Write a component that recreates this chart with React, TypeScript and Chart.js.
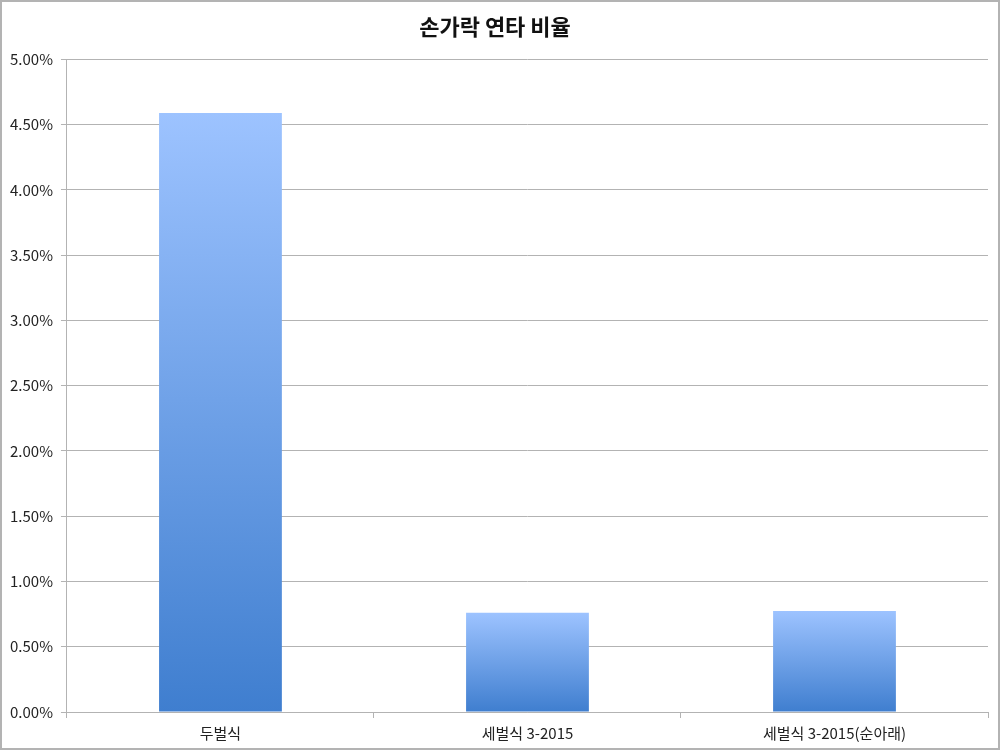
import React, { useEffect, useRef } from "react";
import { Chart, registerables } from "chart.js";

Chart.register(...registerables);

const categories = ["두벌식", "세벌식 3-2015", "세벌식 3-2015(순아래)"];
const values = [4.59, 0.76, 0.774];
const yTicks = [0, 0.5, 1, 1.5, 2, 2.5, 3, 3.5, 4, 4.5, 5];
const titleText = "손가락 연타 비율";

const FONT = "'Noto Sans CJK KR', 'Noto Sans', sans-serif";

export default function App() {
  const ref = useRef<HTMLCanvasElement | null>(null);
  useEffect(() => {
    if (!ref.current) return;
    const chart = new Chart(ref.current, {
      type: "bar",
      data: {
        labels: categories,
        datasets: [
          {
            data: values,
            barPercentage: 0.8,
            categoryPercentage: 0.5,
            backgroundColor: (ctx: any) => {
              const c = ctx.chart;
              const ca = c.chartArea;
              if (!ca || ctx.dataIndex === undefined) return "#6fa0e8";
              const y = c.scales.y;
              const v = ctx.raw ?? values[ctx.dataIndex];
              const top = y.getPixelForValue(v);
              const base = y.getPixelForValue(0);
              const g = c.ctx.createLinearGradient(0, top, 0, base);
              g.addColorStop(0, "#9dc3ff");
              g.addColorStop(1, "#3f7ecf");
              return g;
            },
            borderWidth: 0,
          },
        ],
      },
      options: {
        animation: false,
        responsive: false,
        layout: { padding: { left: 0, right: 10, top: 0, bottom: 0 } },
        plugins: {
          legend: { display: false },
          tooltip: { enabled: false },
          title: {
            display: true,
            text: titleText,
            color: "#111",
            font: { family: FONT, size: 22, weight: "bold" },
            padding: { top: 11, bottom: 20 },
          },
        },
        scales: {
          x: {
            grid: {
              offset: true,
              drawOnChartArea: false,
              drawTicks: true,
              tickLength: 6,
              color: "#b3b3b3",
            },
            border: { display: true, color: "#b3b3b3", width: 1 },
            ticks: {
              color: "#222",
              font: { family: FONT, size: 15 },
              padding: 6,
              maxRotation: 0,
            },
          },
          y: {
            min: 0,
            max: 5,
            afterBuildTicks: (axis: any) => {
              axis.ticks = yTicks.map((v) => ({ value: v }));
            },
            grid: {
              color: "#b3b3b3",
              drawTicks: true,
              tickLength: 6,
            },
            border: { display: true, color: "#b3b3b3", width: 1 },
            ticks: {
              color: "#222",
              font: { family: FONT, size: 15 },
              padding: 8,
              callback: (v: any) => Number(v).toFixed(2) + "%",
            },
          },
        },
      },
    });
    return () => chart.destroy();
  }, []);
  return (
    <div
      style={{
        position: "absolute",
        left: 0,
        top: 0,
        width: 1000,
        height: 750,
        border: "2px solid #b3b3b3",
        boxSizing: "border-box",
        background: "#fff",
      }}
    >
      <canvas ref={ref} width={996} height={746} style={{ display: "block" }} />
    </div>
  );
}
